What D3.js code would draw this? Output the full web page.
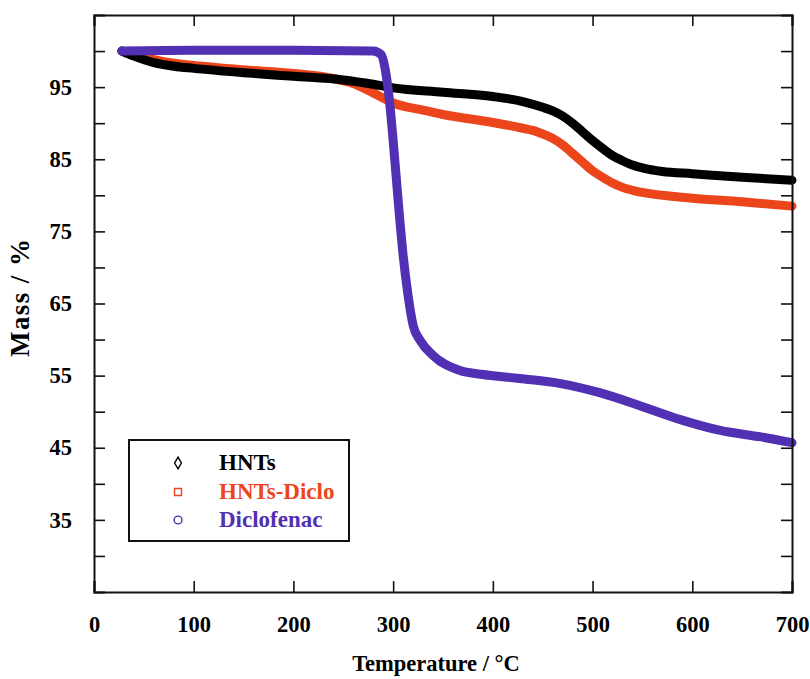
<!DOCTYPE html>
<html>
<head>
<meta charset="utf-8">
<script src="https://cdn.jsdelivr.net/npm/d3@7"></script>
<style>
  html, body { margin: 0; padding: 0; background: #fff; }
  svg { display: block; }
  text { font-family: "Liberation Serif", "Times New Roman", serif; font-weight: bold; }
</style>
</head>
<body>
<svg id="chart" width="810" height="679"></svg>
<script>
// ---- Data ----
const hntsT    = [28, 40, 60, 80, 100, 150, 200, 250, 280, 300, 350, 400, 430, 450, 460, 470, 480, 490, 500, 510, 520, 530, 540, 550, 570, 600, 650, 700];
const hntsM    = [100, 99.3, 98.4, 97.9, 97.6, 97.0, 96.5, 96.0, 95.4, 94.9, 94.3, 93.7, 93.0, 92.2, 91.7, 91.0, 90.0, 88.8, 87.6, 86.5, 85.5, 84.8, 84.2, 83.8, 83.3, 83.0, 82.5, 82.1];

const dicloT   = [28, 40, 60, 80, 100, 150, 200, 240, 260, 280, 300, 330, 350, 400, 430, 440, 450, 460, 470, 480, 490, 500, 510, 520, 530, 540, 550, 600, 650, 700];
const dicloM   = [100, 99.5, 98.8, 98.3, 98.0, 97.4, 96.9, 96.2, 95.5, 94.2, 92.8, 91.8, 91.2, 90.1, 89.3, 89.0, 88.5, 87.9, 87.0, 85.8, 84.6, 83.4, 82.5, 81.7, 81.1, 80.7, 80.4, 79.6, 79.1, 78.5];

const diclofT  = [28, 100, 200, 280, 288, 292, 296, 300, 305, 310, 315, 320, 327, 340, 367, 388, 427, 468, 508, 548, 588, 628, 669, 700];
const diclofM  = [100, 100.1, 100.1, 100, 99.5, 97.5, 93.5, 87.6, 79.3, 71.7, 66.1, 62.0, 59.9, 57.8, 55.7, 55.2, 54.6, 53.9, 52.6, 50.8, 48.9, 47.4, 46.5, 45.7];

const seriesNames  = ["HNTs", "HNTs-Diclo", "Diclofenac"];
const seriesColors = ["#000000", "#ec451b", "#5130b4"];
const legendSymbols = ["diamond", "square", "circle"];

const xTicks = [0, 100, 200, 300, 400, 500, 600, 700];
const yTicks = [30, 35, 40, 45, 50, 55, 60, 65, 70, 75, 80, 85, 90, 95, 100];
const yLabels = [35, 45, 55, 65, 75, 85, 95];

// ---- Layout ----
const svg = d3.select("#chart");
const L = 94, R = 792, T = 15, B = 592;
const x = d3.scaleLinear().domain([0, 700]).range([L, R]);
const y = d3.scaleLinear().domain([25, 105]).range([B, T]);

const tickLen = 11;
const g = svg.append("g");

// lines
const series = [
  {name: seriesNames[1], T: dicloT, M: dicloM, color: seriesColors[1]},
  {name: seriesNames[0], T: hntsT, M: hntsM, color: seriesColors[0]},
  {name: seriesNames[2], T: diclofT, M: diclofM, color: seriesColors[2]}
];
const line = d3.line().x(d => x(d[0])).y(d => y(d[1])).curve(d3.curveMonotoneX);
series.forEach(s => {
  const pts = s.T.map((t, i) => [t, s.M[i]]);
  g.append("path")
    .attr("d", line(pts))
    .attr("fill", "none")
    .attr("stroke", s.color)
    .attr("stroke-width", 9)
    .attr("stroke-linecap", "round")
    .attr("stroke-linejoin", "round");
});

// axes (ticks inside on all four sides)
const axisColor = "#111";
const axBottom = svg.append("g").attr("transform", `translate(0,${B})`)
  .call(d3.axisBottom(x).tickValues(xTicks).tickSize(-tickLen).tickPadding(24).tickFormat(d3.format("d")));
const axTop = svg.append("g").attr("transform", `translate(0,${T})`)
  .call(d3.axisTop(x).tickValues(xTicks).tickSize(-tickLen).tickFormat(""));
const axLeft = svg.append("g").attr("transform", `translate(${L},0)`)
  .call(d3.axisLeft(y).tickValues(yTicks).tickSize(-tickLen).tickPadding(22)
    .tickFormat(d => yLabels.includes(d) ? d : ""));
const axRight = svg.append("g").attr("transform", `translate(${R},0)`)
  .call(d3.axisRight(y).tickValues(yTicks).tickSize(-tickLen).tickFormat(""));

[axBottom, axTop, axLeft, axRight].forEach(a => {
  a.select(".domain").attr("stroke", axisColor).attr("stroke-width", 2);
  a.selectAll(".tick line").attr("stroke", axisColor).attr("stroke-width", 1.6);
  a.selectAll(".tick text").attr("fill", "#000").style("font-size", "22.5px")
    .style("font-family", "'Liberation Serif', serif").style("font-weight", "bold");
});

// axis titles
svg.append("text").attr("x", 436).attr("y", 671).attr("text-anchor", "middle")
  .style("font-size", "22.5px").text("Temperature / °C");
svg.append("text").attr("transform", "translate(29,298) rotate(-90)").attr("text-anchor", "middle")
  .attr("textLength", 118).attr("lengthAdjust", "spacing")
  .style("font-size", "27px").text("Mass / %");

// legend
const lg = svg.append("g");
lg.append("rect").attr("x", 129).attr("y", 440).attr("width", 220).attr("height", 101)
  .attr("fill", "#fff").attr("stroke", "#111").attr("stroke-width", 2);
const legendY = [463, 492, 520];
const symMap = {diamond: d3.symbolDiamond, square: d3.symbolSquare, circle: d3.symbolCircle};
seriesNames.forEach((n, i) => {
  lg.append("path")
    .attr("transform", `translate(178,${legendY[i]})`)
    .attr("d", d3.symbol().type(symMap[legendSymbols[i]]).size(i === 0 ? 40 : 48)())
    .attr("fill", "none").attr("stroke", seriesColors[i]).attr("stroke-width", 1.4);
  lg.append("text").attr("x", 219).attr("y", legendY[i] + 7)
    .attr("fill", seriesColors[i]).style("font-size", "23px").text(n);
});
</script>
</body>
</html>
